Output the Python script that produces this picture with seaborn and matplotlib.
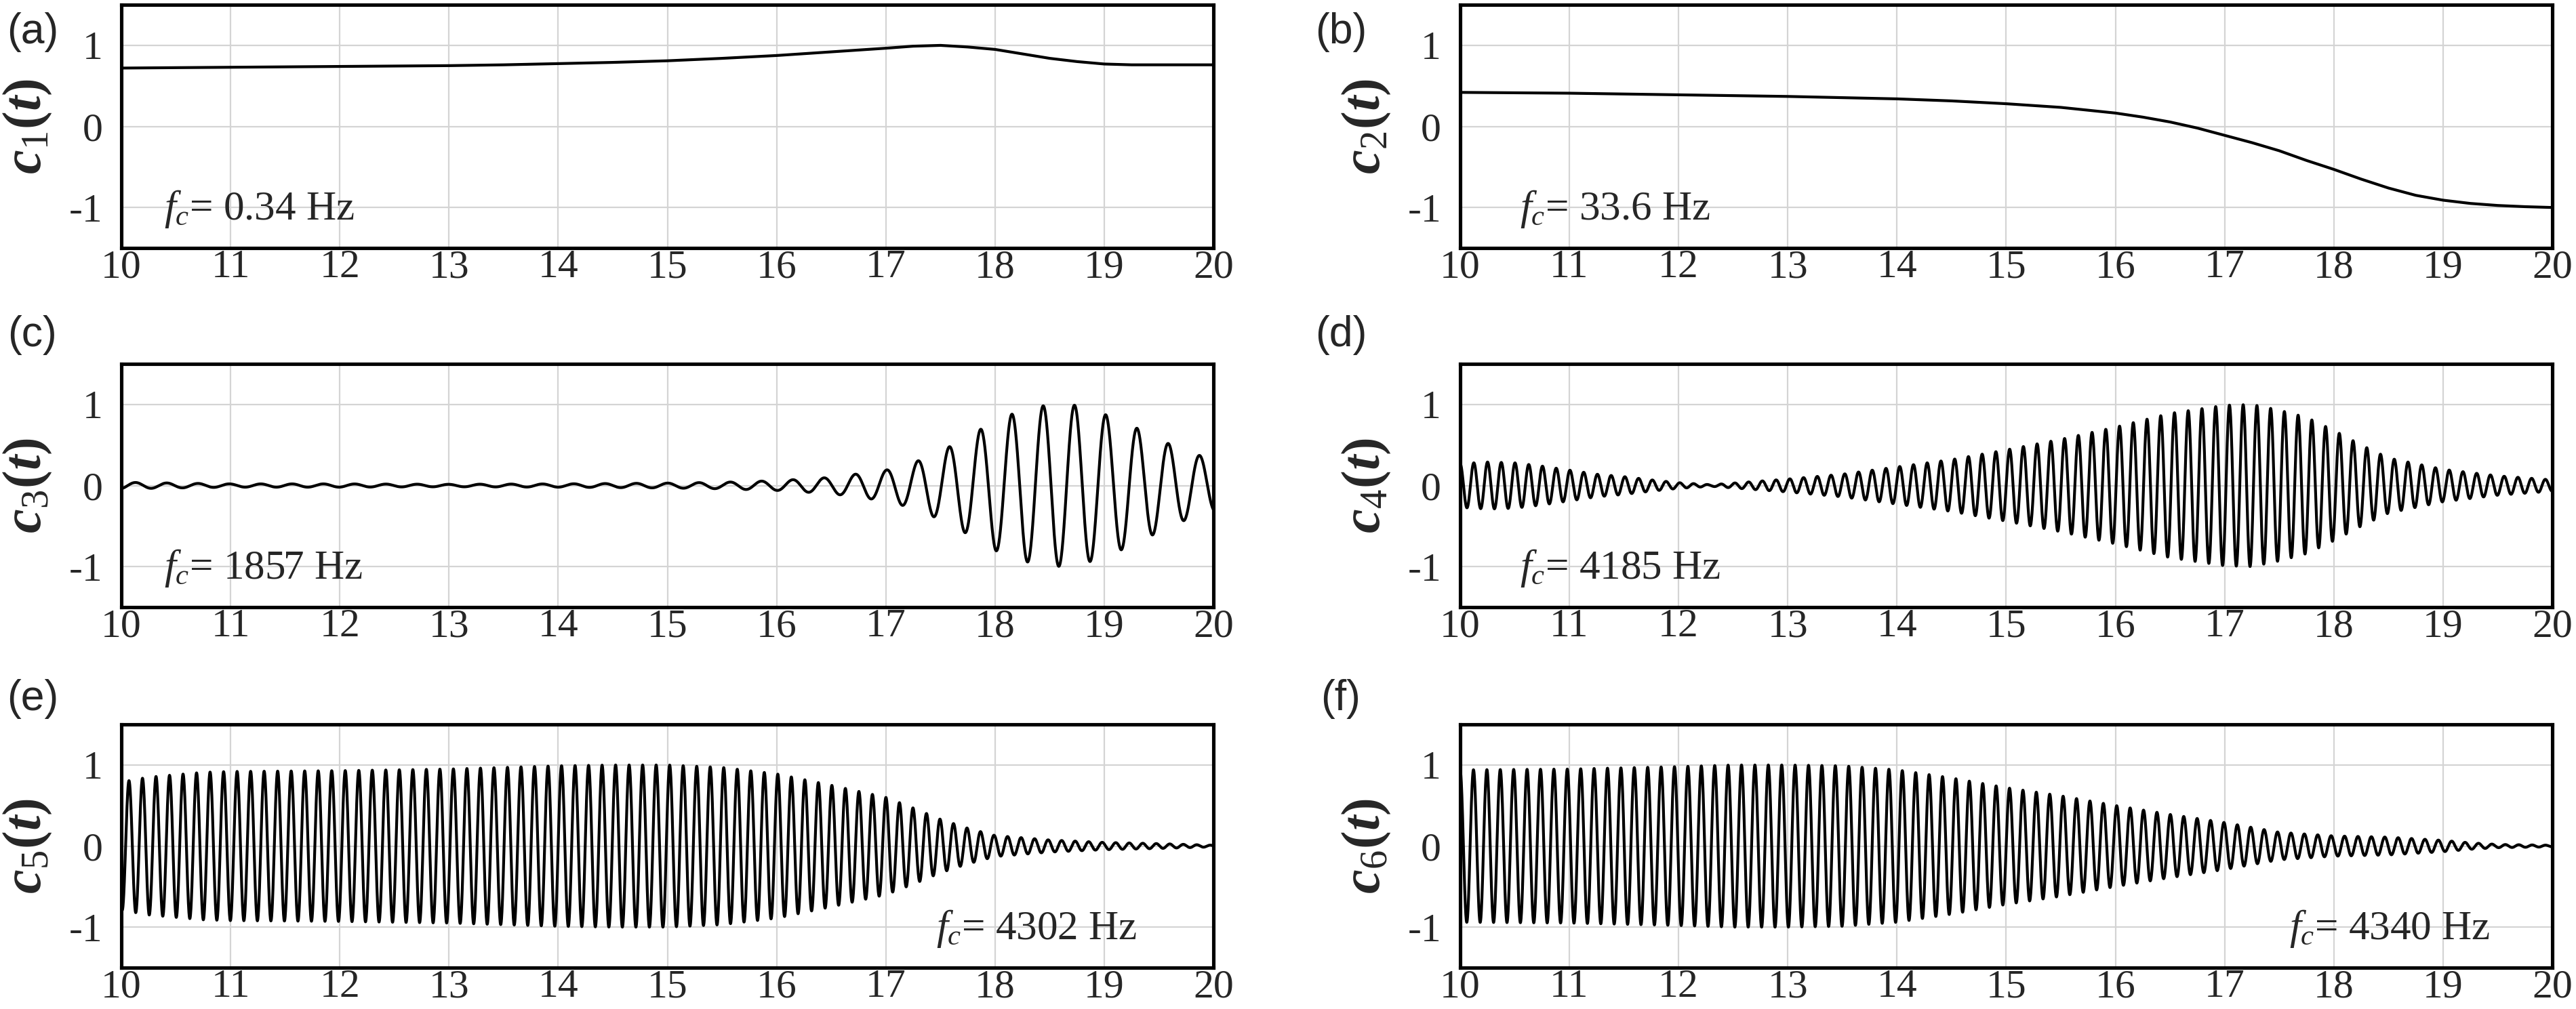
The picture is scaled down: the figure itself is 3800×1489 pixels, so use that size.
import numpy as np
import seaborn as sns
import matplotlib
matplotlib.use("Agg")
import matplotlib.pyplot as plt

# =========================
# Values
# =========================
# smooth components: (t, value) samples
t_c1 = [10, 10.5, 11, 11.5, 12, 12.5, 13, 13.5, 14, 14.5, 15, 15.5, 16, 16.5,
        17, 17.25, 17.5, 17.75, 18, 18.25, 18.5, 18.75, 19, 19.25, 19.5, 20]
c1 = [0.72, 0.725, 0.73, 0.735, 0.74, 0.745, 0.75, 0.76, 0.775, 0.79, 0.81, 0.84,
      0.875, 0.92, 0.965, 0.99, 1.0, 0.98, 0.95, 0.895, 0.84, 0.8, 0.77, 0.76, 0.76, 0.76]

t_c2 = [10, 10.5, 11, 11.5, 12, 12.5, 13, 13.5, 14, 14.5, 15, 15.5, 16, 16.25,
        16.5, 16.75, 17, 17.25, 17.5, 17.75, 18, 18.25, 18.5, 18.75, 19, 19.25,
        19.5, 19.75, 20]
c2 = [0.42, 0.415, 0.41, 0.40, 0.39, 0.38, 0.37, 0.355, 0.34, 0.315, 0.28, 0.235,
      0.165, 0.115, 0.055, -0.02, -0.11, -0.2, -0.3, -0.42, -0.53, -0.65, -0.76,
      -0.85, -0.91, -0.95, -0.975, -0.99, -1.0]

# oscillating components: envelope samples, cycles per unit of t, time of a peak
env_t_c3 = [10, 10.5, 11, 12, 13, 14, 15, 15.5, 16, 16.5, 17, 17.25, 17.5, 17.75,
            18, 18.25, 18.5, 18.75, 19, 19.25, 19.5, 19.75, 20]
env_c3 = [0.04, 0.03, 0.02, 0.02, 0.015, 0.02, 0.03, 0.04, 0.06, 0.1, 0.19, 0.28,
          0.42, 0.6, 0.8, 0.93, 1.0, 0.99, 0.88, 0.74, 0.57, 0.42, 0.32]

env_t_c4 = [10, 10.25, 10.5, 10.75, 11, 11.25, 11.5, 11.75, 12, 12.3, 12.6, 13,
            13.5, 14, 14.5, 15, 15.5, 16, 16.5, 17, 17.25, 17.5, 17.75, 18, 18.25,
            18.5, 19, 19.5, 20]
env_c4 = [0.27, 0.29, 0.28, 0.24, 0.19, 0.14, 0.11, 0.07, 0.035, 0.01, 0.04, 0.08,
          0.14, 0.23, 0.32, 0.44, 0.57, 0.72, 0.89, 0.99, 1.0, 0.93, 0.84, 0.68, 0.5,
          0.34, 0.2, 0.12, 0.07]

env_t_c5 = [10, 10.25, 10.5, 10.75, 11, 12, 13, 14, 14.5, 15, 15.5, 16, 16.5, 17,
            17.25, 17.5, 17.75, 18, 18.5, 19, 19.5, 20]
env_c5 = [0.79, 0.85, 0.88, 0.91, 0.92, 0.93, 0.95, 0.99, 1.0, 1.0, 0.97, 0.89,
          0.75, 0.6, 0.47, 0.33, 0.22, 0.13, 0.075, 0.045, 0.03, 0.01]

env_t_c6 = [10, 11, 12, 12.5, 13, 13.5, 14, 14.5, 15, 15.5, 16, 16.5, 17, 17.5,
            18, 18.5, 19, 19.25, 19.5, 20]
env_c6 = [0.94, 0.95, 0.98, 1.0, 1.0, 0.99, 0.94, 0.84, 0.72, 0.62, 0.5, 0.39,
          0.29, 0.17, 0.125, 0.11, 0.07, 0.04, 0.02, 0.01]

cycles_per_unit = {"c3": 3.49, "c4": 7.95, "c5": 8.08, "c6": 8.15}
peak_time = {"c3": 18.44, "c4": 10.0, "c5": 10.07, "c6": 10.0}

panel_tags = ["(a)", "(b)", "(c)", "(d)", "(e)", "(f)"]
fc_labels = ["0.34 Hz", "33.6 Hz", "1857 Hz", "4185 Hz", "4302 Hz", "4340 Hz"]
x_ticks = list(range(10, 21))
y_ticks = [-1, 0, 1]

# =========================
# Style
# =========================
sns.set_style("white")
plt.rcParams["font.family"] = ["Liberation Serif", "DejaVu Serif"]
plt.rcParams["axes.unicode_minus"] = False
plt.rcParams["mathtext.fontset"] = "custom"
plt.rcParams["mathtext.rm"] = "Liberation Serif"
plt.rcParams["mathtext.it"] = "Liberation Serif:italic"
plt.rcParams["mathtext.bf"] = "Liberation Serif:bold"
plt.rcParams["mathtext.bfit"] = "Liberation Serif:bold:italic"

fig = plt.figure(figsize=(38, 14.89), dpi=100)

col_left = [0.0471, 0.5668]
col_width = 0.4240
row_bottom = [0.7542, 0.3983, 0.0410]
row_height = 0.2410


def oscillation(env_t, env_a, key):
    t = np.linspace(10, 20, 8001)
    env = np.interp(t, env_t, env_a)
    return t, env * np.cos(2 * np.pi * cycles_per_unit[key] * (t - peak_time[key]))


series = [
    (np.array(t_c1), np.array(c1)),
    (np.array(t_c2), np.array(c2)),
    oscillation(env_t_c3, env_c3, "c3"),
    oscillation(env_t_c4, env_c4, "c4"),
    oscillation(env_t_c5, env_c5, "c5"),
    oscillation(env_t_c6, env_c6, "c6"),
]

tag_x = [0.0126, 0.5205]
tag_y = [0.968, 0.668, 0.307]

for i, (t, y) in enumerate(series):
    row, col = divmod(i, 2)
    ax = fig.add_axes([col_left[col], row_bottom[row], col_width, row_height])
    sns.lineplot(x=t, y=y, ax=ax, color="black", lw=3.0, estimator=None, sort=False)

    ax.set_xlim(10, 20)
    ax.set_ylim(-1.5, 1.5)
    ax.set_xticks(x_ticks)
    ax.set_yticks(y_ticks)
    ax.set_xticklabels([str(v) for v in x_ticks])
    ax.set_yticklabels([str(v) for v in y_ticks])
    ax.grid(True, color="#d4d4d4", lw=1.6)
    ax.set_axisbelow(True)
    ax.tick_params(axis="both", direction="in", labelsize=43, width=1.5,
                   length=7, top=False, right=False)
    ax.tick_params(axis="x", pad=1.5)
    ax.tick_params(axis="y", pad=20)
    for s in ax.spines.values():
        s.set_linewidth(3.7)
        s.set_color("black")

    ax.set_xlabel("")
    ax.set_ylabel(r"$\mathbfit{c}_{\mathrm{%d}}\mathbf{(}\mathbfit{t}\mathbf{)}$" % (i + 1),
                  fontsize=58)
    ax.yaxis.set_label_coords(-0.062, 0.5)

    # f_c annotation
    if row < 2:
        fx = 0.039 if col == 0 else 0.055
    else:
        fx = 0.746 if col == 0 else 0.759
    ax.text(fx, 0.117, r"$f_c$= " + fc_labels[i], transform=ax.transAxes,
            fontsize=44, ha="left", va="baseline")

    fig.text(tag_x[col], tag_y[row], panel_tags[i], family="Liberation Sans",
             fontsize=45, ha="center", va="center")

fig.savefig("out.png", dpi=100)
